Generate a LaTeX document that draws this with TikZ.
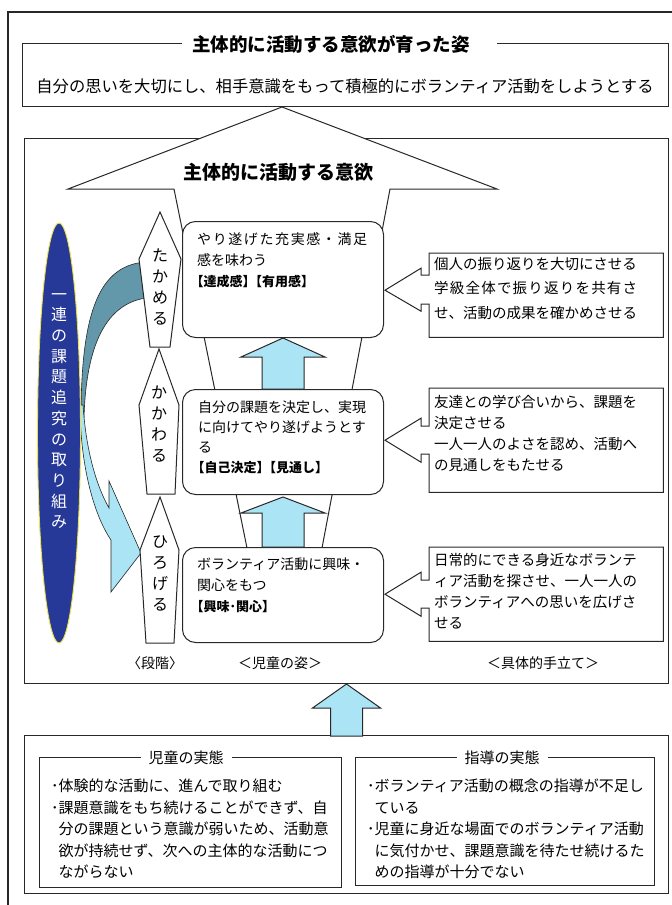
\documentclass[tikz,border=0pt]{standalone}
\usepackage{fontspec}
\setmainfont{Noto Sans CJK JP}
\usetikzlibrary{calc,shapes.geometric}
\definecolor{skyb}{RGB}{170,228,245}
\definecolor{tealb}{RGB}{98,152,170}
\definecolor{navyb}{RGB}{38,56,152}
\definecolor{linec}{RGB}{40,40,40}
\definecolor{ylw}{RGB}{235,225,70}
\tikzset{
  frm/.style={draw=linec, line width=1pt},
  plainbox/.style={draw=linec, line width=1pt, inner sep=0pt, anchor=north west},
  rbox/.style={draw=linec, line width=1pt, fill=white, rounded corners=13pt, inner sep=0pt, anchor=north west},
  txt/.style={anchor=north west, inner sep=0pt, align=left, font=\fontsize{14}{21}\selectfont},
  ctxt/.style={anchor=north west, inner sep=0pt, align=left, font=\fontsize{14.5}{21}\selectfont},
  btxt/.style={anchor=north west, inner sep=0pt, align=left, font=\fontsize{15}{21.5}\selectfont},
  upar/.style={draw=linec, line width=1pt, fill=skyb},
  bandarrow/.style={draw=linec, line width=0.6pt},
  stagebox/.style={draw=linec, line width=1pt, fill=white},
  vtxt/.style={inner sep=0pt, align=center, font=\fontsize{16}{21}\selectfont},
  lbl/.style={inner sep=0pt, font=\fontsize{14}{17}\selectfont},
  titlebg/.style={fill=white, inner xsep=8pt, inner ysep=2pt},
}
\newcommand{\tagfont}{\fontsize{13}{21}\selectfont\bfseries}
\begin{document}
\begin{tikzpicture}[x=1pt,y=-1pt]
\useasboundingbox (0,0) rectangle (672,905);
\fill[white] (0,0) rectangle (672,905);

% outer frame
\draw[frm, line width=1.3pt] (8,905) -- (8,12) -- (672,12);

% top box
\node[plainbox, minimum width=646pt, minimum height=63pt] (topbox) at (22,43) {};
\fill[white] (182,38) rectangle (497,50);
\node[inner sep=0pt, font=\fontsize{18.5}{21}\selectfont\bfseries] (toptitle) at (331,44) {主体的に活動する意欲が育った姿};
\node[inner sep=0pt, font=\fontsize{16.3}{20}\selectfont] (toptext) at (345,86) {自分の思いを大切にし、相手意識をもって積極的にボランティア活動をしようとする};

% middle frame
\node[plainbox, minimum width=644pt, minimum height=545pt] (midframe) at (24,138) {};

% roof and funnel
\draw[frm, fill=white] (68,189) -- (282,107) -- (497,189) -- (390,189) -- (322,548) -- (247,548) -- (174,189) -- cycle;
\node[inner sep=0pt, font=\fontsize{19}{22}\selectfont\bfseries] (rooftitle) at (278,172) {主体的に活動する意欲};

% curved arrows
\filldraw[bandarrow, fill=tealb] (146,262) .. controls (100,265) and (81,310) .. (81,418) -- (84,418) .. controls (86,345) and (106,304) .. (146,298) -- cycle;
\filldraw[bandarrow, fill=skyb] (83,405) .. controls (86,450) and (96,485) .. (109,508) -- (109,481) -- (141,553) -- (111,592) -- (111,540) .. controls (92,512) and (80,460) .. (80,405) -- cycle;

% ellipse
\node[ellipse, draw=ylw, line width=0.9pt, fill=navyb, minimum width=43pt, minimum height=420pt, inner sep=0pt] (loop) at (59,433) {};
\node[vtxt, text=white, font=\fontsize{16}{20.7}\selectfont] (looptext) at (59,411) {一\\連\\の\\課\\題\\追\\究\\の\\取\\り\\組\\み};

% stages
\draw[stagebox] (160,212) -- (181,259) -- (170,347) -- (150,347) -- (139,259) -- cycle;
\node[vtxt] (s1) at (160,287) {た\\か\\め\\る};
\draw[stagebox] (159,349) -- (179,405) -- (175,494) -- (147,494) -- (139,405) -- cycle;
\node[vtxt] (s2) at (159,424) {か\\か\\わ\\る};
\draw[stagebox] (160,497) -- (179,550) -- (174,643) -- (146,643) -- (140,550) -- cycle;
\node[vtxt] (s3) at (160,573) {ひ\\ろ\\げ\\る};

% child boxes
\node[rbox, minimum width=201pt, minimum height=116pt] (b1) at (182,221) {};
\node[txt] (t1) at (197,232) {\makebox[170pt][s]{や\hfill り\hfill 遂\hfill げ\hfill た\hfill 充\hfill 実\hfill 感\hfill ・\hfill 満\hfill 足}\\感を味わう\\{\tagfont\kern-0.5em【達成感】\kern-0.5em【有用感】}};
\node[rbox, minimum width=201pt, minimum height=105pt] (b2) at (182,389) {};
\node[txt, font=\fontsize{14}{20}\selectfont] (t2) at (198,401) {自分の課題を決定し、実現\\に向けてやり遂げようとす\\る\\{\tagfont\kern-0.5em【自己決定】\kern-0.5em【見通し】}};
\node[rbox, minimum width=201pt, minimum height=95pt] (b3) at (182,547) {};
\node[txt] (t3) at (197,558) {ボランティア活動に興味・\\関心をもつ\\{\tagfont\kern-0.5em【興味･関心】}};

% up arrows between boxes
\draw[upar] (b1.south) -- ($(b1.south)+(42,19)$) -- ($(b1.south)+(21,19)$) -- ($(b2.north)+(21,0)$) -- ($(b2.north)+(-21,0)$) -- ($(b1.south)+(-21,19)$) -- ($(b1.south)+(-42,19)$) -- cycle;
\draw[upar] ($(b2.south)+(0,2)$) -- ($(b2.south)+(42,18)$) -- ($(b2.south)+(21,18)$) -- ($(b3.north)+(21,0)$) -- ($(b3.north)+(-21,0)$) -- ($(b2.south)+(-21,18)$) -- ($(b2.south)+(-42,18)$) -- cycle;

% callouts
\node[inner sep=0pt, minimum width=234pt, minimum height=84pt, anchor=north west] (ca) at (429,253) {};
\draw[frm, fill=white] (ca.north west) -- (ca.north east) -- (ca.south east) -- (ca.south west) -- ($(ca.west)+(0,9)$) -- ($(ca.west)+(-8,9)$) -- ($(ca.west)+(-8,16)$) -- ($(b1.east |- ca.west)+(1,-5)$) -- ($(ca.west)+(-8,-27)$) -- ($(ca.west)+(-8,-20)$) -- ($(ca.west)+(0,-20)$) -- cycle;
\node[ctxt, font=\fontsize{14.5}{24.5}\selectfont] (cat) at (434,257) {個人の振り返りを大切にさせる\\\makebox[203pt][s]{学\hfill 級\hfill 全\hfill 体\hfill で\hfill 振\hfill り\hfill 返\hfill り\hfill を\hfill 共\hfill 有\hfill さ}\\せ、活動の成果を確かめさせる};

\node[inner sep=0pt, minimum width=234pt, minimum height=104pt, anchor=north west] (cb) at (429,388) {};
\draw[frm, fill=white] (cb.north west) -- (cb.north east) -- (cb.south east) -- (cb.south west) -- ($(cb.west)+(0,14)$) -- ($(cb.west)+(-8,14)$) -- ($(cb.west)+(-8,22)$) -- ($(b2.east |- cb.west)+(1,0)$) -- ($(cb.west)+(-8,-22)$) -- ($(cb.west)+(-8,-14)$) -- ($(cb.west)+(0,-14)$) -- cycle;
\node[ctxt] (cbt) at (434,395) {友達との学び合いから、課題を\\決定させる\\一人一人のよさを認め、活動へ\\の見通しをもたせる};

\node[inner sep=0pt, minimum width=234pt, minimum height=94pt, anchor=north west] (cc) at (429,547) {};
\draw[frm, fill=white] (cc.north west) -- (cc.north east) -- (cc.south east) -- (cc.south west) -- ($(cc.west)+(0,14)$) -- ($(cc.west)+(-8,14)$) -- ($(cc.west)+(-8,22)$) -- ($(b3.east |- cc.west)+(1,0)$) -- ($(cc.west)+(-8,-22)$) -- ($(cc.west)+(-8,-14)$) -- ($(cc.west)+(0,-14)$) -- cycle;
\node[ctxt] (cct) at (434,553) {日常的にできる身近なボランテ\\ィア活動を探させ、一人一人の\\ボランティアへの思いを広げさ\\せる};

% column labels
\node[lbl] (l1) at (155,663) {〈段階〉};
\node[lbl] (l2) at (280,663) {＜児童の姿＞};
\node[lbl] (l3) at (543,663) {＜具体的手立て＞};

% bottom section
\node[plainbox, minimum width=644pt, minimum height=158pt] (botbox) at (24,735) {};
\draw[upar] (botbox.north |- midframe.south) -- +(34,24) -- +(16,24) -- +(16,52) -- +(-16,52) -- +(-16,24) -- +(-34,24) -- cycle;

\node[plainbox, minimum width=302pt, minimum height=130pt] (lbox) at (39,757) {};
\node[titlebg, font=\fontsize{15}{18}\selectfont] (ltitle) at (186,758) {児童の実態};
\node[btxt] (ltext) at (51,779) {･体験的な活動に、進んで取り組む\\･課題意識をもち続けることができず、自\\\hspace*{7.5pt}分の課題という意識が弱いため、活動意\\\hspace*{7.5pt}欲が持続せず、次への主体的な活動につ\\\hspace*{7.5pt}ながらない};

\node[plainbox, minimum width=299pt, minimum height=128pt] (rbx) at (355,757) {};
\node[titlebg, font=\fontsize{15}{18}\selectfont] (rtitle) at (502,758) {指導の実態};
\node[btxt] (rtext) at (367,779) {･ボランティア活動の概念の指導が不足し\\\hspace*{7.5pt}ている\\･児童に身近な場面でのボランティア活動\\\hspace*{7.5pt}に気付かせ、課題意識を待たせ続けるた\\\hspace*{7.5pt}めの指導が十分でない};
\end{tikzpicture}
\end{document}
